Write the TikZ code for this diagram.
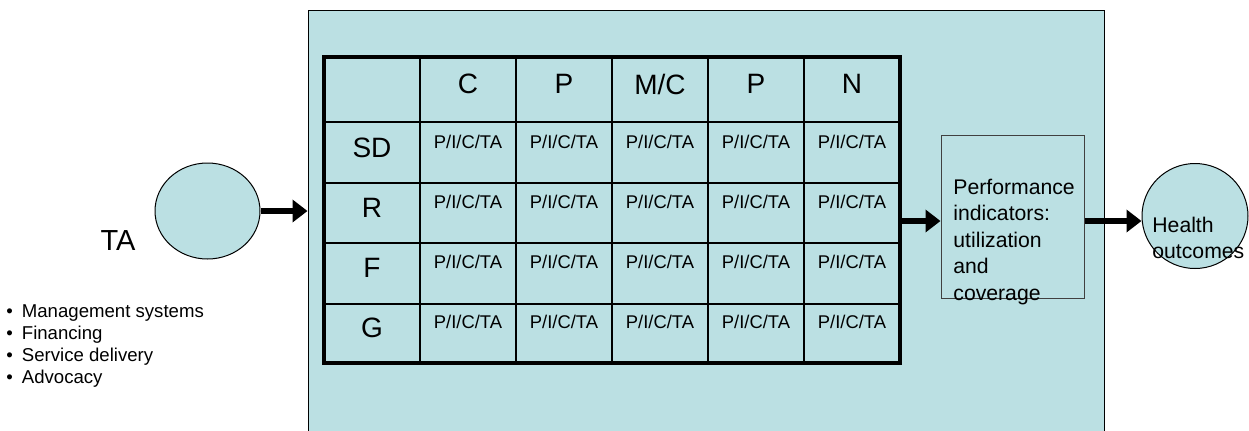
\documentclass[tikz,border=0pt]{standalone}
\usepackage{fontspec}
\setmainfont{Liberation Sans}
\usetikzlibrary{shapes.geometric,arrows.meta}
\definecolor{paleteal}{RGB}{187,224,227}
\begin{document}
\begin{tikzpicture}[x=0.5pt, y=-0.5pt,
    panel/.style = {draw, fill=paleteal, line width=0.5pt, inner sep=0},
    blob/.style = {draw, ellipse, fill=paleteal, line width=0.5pt, inner sep=0},
    head/.style = {font=\fontsize{14}{16}\selectfont},
    entry/.style = {font=\fontsize{9.2}{11}\selectfont},
    point/.style = {anchor=base west, inner sep=0, font=\fontsize{9.3}{11}\selectfont},
    say/.style = {anchor=north west, align=left, inner sep=0, font=\fontsize{10.6}{13.25}\selectfont},
    link/.style = {line width=3pt, -{Triangle[length=7.5pt, width=11pt]}}]
\useasboundingbox (0,0) rectangle (1249,430);
\node[panel, minimum width=398pt, minimum height=215pt] (frame) at (706,225) {};

% grid of areas against functions
\foreach \x in {420,516,...,804} \draw[line width=1pt] (\x,57) -- (\x,363);
\foreach \y in {122,183,243,304} \draw[line width=1pt] (324,\y) -- (900,\y);
\node[draw, line width=1.7pt, minimum width=288pt, minimum height=153pt, inner sep=0] (grid) at (612,210) {};
\foreach \lab [count=\i] in {C,P,M/C,P,N}
    \node[head] (col\i) at (372+96*\i,84) {\lab};
\foreach \lab [count=\j] in {SD,R,F,G} {
    \node[head] (row\j) at (372,148+60*\j-60) {\lab};
    \foreach \i in {1,...,5}
        \node[entry] (e\j\i) at (372+96*\i,142+60*\j-60) {P/I/C/TA};
}

\node[blob, minimum width=52.5pt, minimum height=48pt] (ta) at (207.5,211) {};
\node[font=\fontsize{14.5}{17}\selectfont] (talabel) at (118,241) {TA};
\foreach \txt [count=\k] in {Management systems,Financing,Service delivery,Advocacy}
    \node[point] (item\k) at (6,317+22*\k-22) {\textbullet\hspace{4.5pt}\txt};

\node[draw, line width=0.5pt, draw=black!75, minimum width=71.5pt, minimum height=81.5pt, inner sep=0] (perf) at (1012.5,216.5) {};
\node[say] (perftext) at (953,178.5) {Performance\\indicators:\\utilization\\and\\coverage};
\node[blob, minimum width=53pt, minimum height=52.5pt] (health) at (1195,216) {};
\node[say] (healthtext) at (1152,216.5) {Health\\outcomes};

\coordinate (perfin) at ([yshift=-2.25pt]perf.west);
\draw[link] (ta.east) -- (ta.east -| frame.west);
\draw[link] (perfin -| grid.east) -- (perfin);
\draw[link] (perfin -| perf.east) -- (perfin -| health.west);
\end{tikzpicture}
\end{document}
